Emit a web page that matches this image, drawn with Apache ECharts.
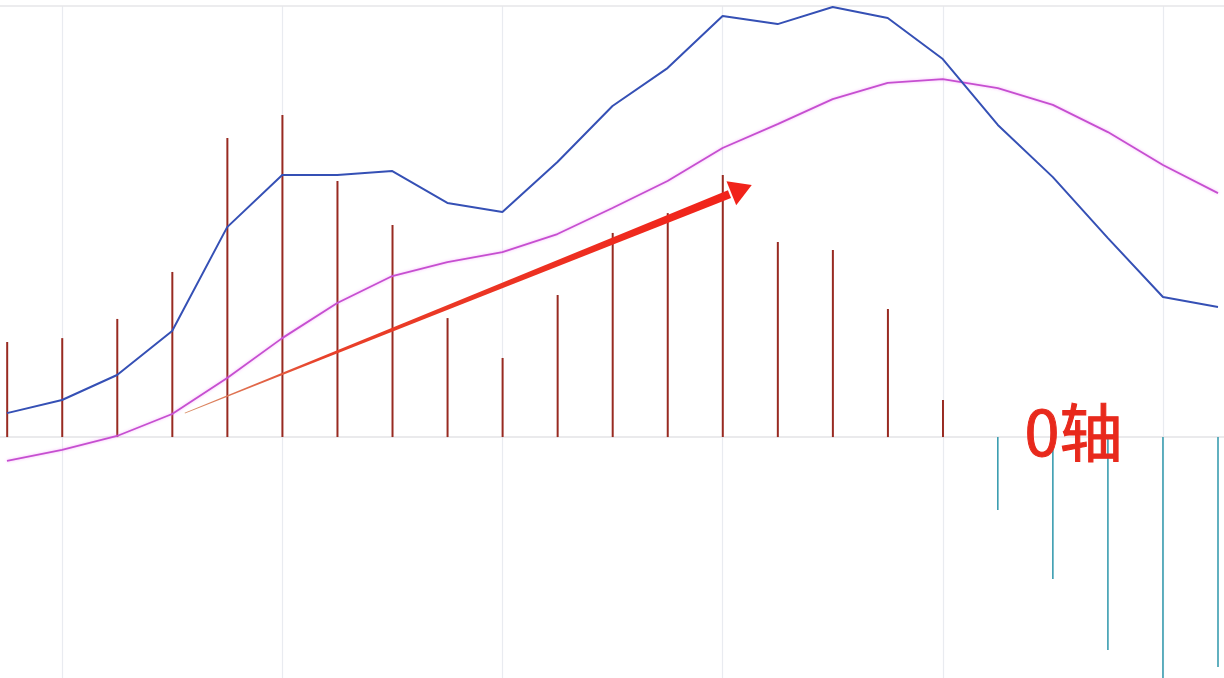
<!DOCTYPE html>
<html>
<head>
<meta charset="utf-8">
<style>html,body{margin:0;padding:0;background:#fff;}#c{width:1224px;height:678px;}</style>
<script src="https://cdn.jsdelivr.net/npm/echarts@6/dist/echarts.min.js"></script>
</head>
<body>
<div id="c"></div>
<script>
// MACD histogram (bars), DIF (blue), DEA (magenta)
const periods = [0,1,2,3,4,5,6,7,8,9,10,11,12,13,14,15,16,17,18,19,20,21,22];
const macdBars = [0.441,0.459,0.548,0.766,1.387,1.494,1.188,0.984,0.552,0.367,0.659,0.947,1.039,1.216,0.905,0.868,0.594,0.172,-0.339,-0.659,-0.988,-1.22,-1.067];
const difLine = [0.111,0.172,0.288,0.492,0.974,1.216,1.216,1.234,1.086,1.044,1.276,1.536,1.712,1.954,1.916,1.995,1.944,1.754,1.448,1.206,0.923,0.650,0.603];
const deaLine = [-0.111,-0.060,0.005,0.107,0.274,0.459,0.622,0.747,0.812,0.858,0.942,1.063,1.188,1.341,1.452,1.568,1.643,1.661,1.619,1.541,1.415,1.262,1.132];
const gridPeriods = [1,5,9,13,17,21];
const trendArrow = [[3.23, 0.111, 13.53, 1.169]];
const axisLabel = '0轴';

const chart = echarts.init(document.getElementById('c'));
const posBars = periods.map((p,i)=> macdBars[i] >= 0 ? [p, macdBars[i]] : [p, null]);
const negBars = periods.map((p,i)=> macdBars[i] < 0 ? [p, macdBars[i]] : [p, null]);

chart.setOption({
  animation: false,
  backgroundColor: '#ffffff',
  grid: {left: 0, right: 0, top: 6, bottom: 0},
  xAxis: {
    type: 'value', min: -0.127, max: 22.109,
    axisLine: {show: true, onZero: true, lineStyle: {color: '#e3e3e6', width: 1.5}},
    axisTick: {show: false}, axisLabel: {show: false}, splitLine: {show: false}
  },
  yAxis: {
    type: 'value', min: -1.118, max: 2.0,
    axisLine: {show: false}, axisTick: {show: false}, axisLabel: {show: false}, splitLine: {show: false}
  },
  series: [
    {
      type: 'line', data: [], silent: true, z: 0,
      markLine: {
        silent: true, symbol: 'none', label: {show: false}, z: 0,
        lineStyle: {color: '#e9ebf0', width: 1.2, type: 'solid'},
        data: gridPeriods.map(g => ({xAxis: g})).concat([{yAxis: 2.0, lineStyle: {color: '#e6e6e8', width: 1.5}}])
      }
    },
    {
      type: 'bar', data: posBars, barWidth: 2, barGap: '-100%',
      itemStyle: {color: '#982a21'}, z: 2
    },
    {
      type: 'bar', data: negBars, barWidth: 1.6, barGap: '-100%',
      itemStyle: {color: '#3a9db0'}, z: 2
    },
    {
      type: 'line', data: periods.map((p,i)=>[p, deaLine[i]]),
      symbol: 'none', smooth: false,
      lineStyle: {color: '#c64fd0', width: 1.8, shadowColor: 'rgba(240,120,250,0.55)', shadowBlur: 3},
      z: 3
    },
    {
      type: 'line', data: periods.map((p,i)=>[p, difLine[i]]),
      symbol: 'none', smooth: false,
      lineStyle: {color: '#3550b5', width: 2},
      z: 4
    },
    {
      type: 'custom', data: trendArrow, clip: false, z: 6,
      encode: {x: [0, 2], y: [1, 3]},
      renderItem: function (params, api) {
        const p0 = api.coord([api.value(0), api.value(1)]);
        const p1 = api.coord([api.value(2), api.value(3)]);
        const dx = p1[0]-p0[0], dy = p1[1]-p0[1];
        const L = Math.sqrt(dx*dx+dy*dy);
        const ux = dx/L, uy = dy/L, nx = -uy, ny = ux;
        const headLen = 24, headHalf = 13, w0 = 0.4, w1 = 4.2;
        const b = [p1[0]-ux*headLen, p1[1]-uy*headLen];
        const shaft = [
          [p0[0]+nx*w0, p0[1]+ny*w0],
          [b[0]+nx*w1, b[1]+ny*w1],
          [b[0]-nx*w1, b[1]-ny*w1],
          [p0[0]-nx*w0, p0[1]-ny*w0]
        ];
        const head = [
          p1,
          [b[0]+nx*headHalf+ux*2, b[1]+ny*headHalf+uy*2],
          [b[0]-nx*headHalf+ux*2, b[1]-ny*headHalf+uy*2]
        ];
        return {
          type: 'group',
          children: [
            {type: 'polygon', shape: {points: shaft}, style: {
              fill: new echarts.graphic.LinearGradient(p0[0], p0[1], b[0], b[1], [
                {offset: 0, color: '#d9906a'}, {offset: 0.25, color: '#e8412a'}, {offset: 1, color: '#f1231a'}
              ], true)}},
            {type: 'polygon', shape: {points: head}, style: {fill: '#f1231a'}}
          ]
        };
      }
    }
  ],
  graphic: [
    {
      type: 'text', z: 100, left: 1024, top: 400,
      style: {text: axisLabel, font: 'normal 63px "Noto Sans CJK SC"', fill: '#e8291c', stroke: '#e8291c', lineWidth: 1}
    }
  ]
});
</script>
</body>
</html>
